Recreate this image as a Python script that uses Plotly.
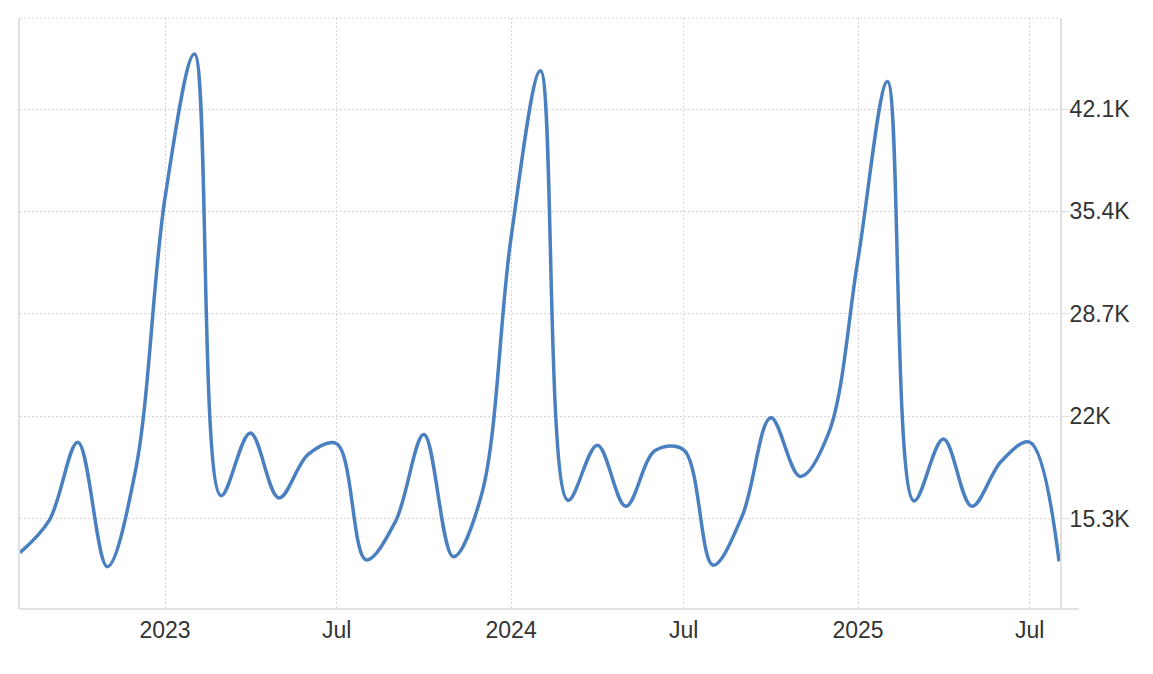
import plotly.graph_objects as go

months = [
    "2022-08-01", "2022-09-01", "2022-10-01", "2022-11-01", "2022-12-01",
    "2023-01-01", "2023-02-01", "2023-03-01", "2023-04-01", "2023-05-01", "2023-06-01",
    "2023-07-01", "2023-08-01", "2023-09-01", "2023-10-01", "2023-11-01", "2023-12-01",
    "2024-01-01", "2024-02-01", "2024-03-01", "2024-04-01", "2024-05-01", "2024-06-01",
    "2024-07-01", "2024-08-01", "2024-09-01", "2024-10-01", "2024-11-01", "2024-12-01",
    "2025-01-01", "2025-02-01", "2025-03-01", "2025-04-01", "2025-05-01", "2025-06-01",
    "2025-07-01", "2025-08-01",
]
values = [
    13070, 15200, 20300, 12150, 18500,
    36300, 45700, 16800, 20900, 16650, 19500,
    20200, 12600, 15100, 20800, 12800, 16900,
    33700, 44600, 16500, 20100, 16100, 19750,
    19800, 12250, 15500, 21900, 18050, 20900,
    32300, 43900, 16450, 20500, 16100, 19050,
    20300, 12500,
]

x_tick_vals = ["2023-01-01", "2023-07-01", "2024-01-01", "2024-07-01", "2025-01-01", "2025-07-01"]
x_tick_text = ["2023", "Jul", "2024", "Jul", "2025", "Jul"]
y_tick_vals = [15300, 22000, 28700, 35400, 42100]
y_tick_text = ["15.3K", "22K", "28.7K", "35.4K", "42.1K"]

LINE = "#4a80c0"
GRID = "#d6d6d6"
AXIS = "#e0e0e0"
FONT = "Liberation Sans, Arial, sans-serif"
TXT = "#333333"
DOT = "2px,2px"

fig = go.Figure()
fig.add_trace(go.Scatter(
    x=months, y=values, mode="lines",
    line=dict(color=LINE, width=3.5, shape="spline", smoothing=1.0),
    hoverinfo="x+y", showlegend=False,
))

fig.update_layout(
    width=1145, height=666,
    margin=dict(l=10, r=93, t=10, b=65),
    paper_bgcolor="white", plot_bgcolor="white",
    font=dict(family=FONT, size=23, color=TXT),
    xaxis=dict(
        type="date", range=["2022-08-01", "2025-08-02"],
        tickvals=x_tick_vals, ticktext=x_tick_text,
        showgrid=True, gridcolor=GRID, griddash=DOT, gridwidth=1,
        showline=False, zeroline=False, ticks="",
        ticklabelstandoff=5,
        tickfont=dict(size=23, color=TXT),
    ),
    yaxis=dict(
        side="right", range=[9380, 48060],
        tickvals=y_tick_vals, ticktext=y_tick_text,
        showgrid=True, gridcolor=GRID, griddash=DOT, gridwidth=1,
        showline=True, linecolor=AXIS, linewidth=2, mirror=True,
        zeroline=False, ticks="outside", ticklen=8, tickcolor=AXIS, tickwidth=1,
        ticklabelstandoff=-5,
        tickfont=dict(size=23, color=TXT),
    ),
    shapes=[
        dict(type="line", xref="paper", yref="paper", x0=0, x1=1.018, y0=0, y1=0,
             line=dict(color=AXIS, width=2)),
        dict(type="line", xref="paper", yref="paper", x0=0, x1=1.0, y0=1, y1=1,
             line=dict(color=GRID, width=1, dash=DOT)),
    ],
)

fig.write_html("out.html")
